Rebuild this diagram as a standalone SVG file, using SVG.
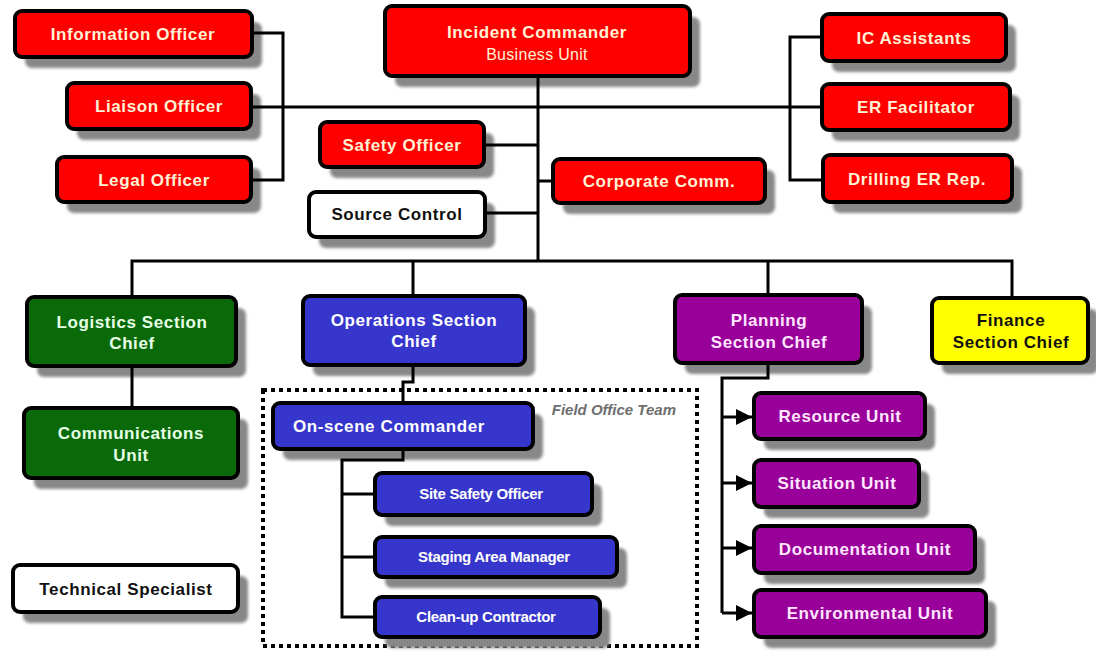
<svg xmlns="http://www.w3.org/2000/svg" width="1096" height="651" viewBox="0 0 1096 651">
  <defs>
    <filter id="soft" x="-10%" y="-20%" width="120%" height="140%">
      <feGaussianBlur stdDeviation="1.5"/>
    </filter>
    <marker id="arrow" markerUnits="userSpaceOnUse" markerWidth="18" markerHeight="18" refX="16" refY="9" orient="auto">
      <path d="M0,1 L16,9 L0,17 Z" fill="#000"/>
    </marker>
  </defs>
  <style>
    .sh { fill: #888888; filter: url(#soft); }
    .box { stroke: #000; stroke-width: 4; }
    .red { fill: #ff0000; }
    .green { fill: #0a6a0a; }
    .blue { fill: #3636cc; }
    .purple { fill: #990099; }
    .yellow { fill: #ffff00; }
    .white { fill: #ffffff; }
    text { font-family: "Liberation Sans", Arial, sans-serif; font-weight: bold; font-size: 17px; text-anchor: middle; letter-spacing: 0.6px; }
    .tr { fill: #fff2d6; }
    .tg { fill: #e6ffe6; }
    .tb { fill: #ffffff; }
    .tp { fill: #ffe6ff; }
    .tk { fill: #111111; }
    .small { font-size: 15px; letter-spacing: -0.3px; }
    .sub { font-weight: normal; font-size: 16px; letter-spacing: 0.3px; }
    .note { fill: #6e6e6e; font-style: italic; font-size: 15px; text-anchor: end; letter-spacing: 0; }
    .ln { fill: none; stroke: #000; stroke-width: 3; }
    .dots { fill: none; stroke: #000; stroke-width: 4; stroke-dasharray: 4 4; }
  </style>

  <!-- field office team frame -->
  <g id="field-office-team">
    <rect class="dots" x="263" y="390" width="434" height="256"/>
    <text class="note" x="676" y="415">Field Office Team</text>
  </g>

  <!-- command staff, left -->
  <g id="information-officer">
    <rect class="sh" x="25" y="22" width="237" height="46" rx="7"/>
    <rect class="box red" x="15" y="11" width="237" height="46" rx="7"/>
    <text class="tr" x="133" y="40">Information Officer</text>
  </g>
  <g id="liaison-officer">
    <rect class="sh" x="77" y="94" width="184" height="46" rx="7"/>
    <rect class="box red" x="67" y="83" width="184" height="46" rx="7"/>
    <text class="tr" x="159" y="112">Liaison Officer</text>
  </g>
  <g id="legal-officer">
    <rect class="sh" x="67" y="168" width="194" height="45" rx="7"/>
    <rect class="box red" x="57" y="157" width="194" height="45" rx="7"/>
    <text class="tr" x="154" y="186">Legal Officer</text>
  </g>

  <!-- incident commander -->
  <g id="incident-commander">
    <rect class="sh" x="395" y="17" width="305" height="70" rx="7"/>
    <rect class="box red" x="385" y="6" width="305" height="70" rx="7"/>
    <text class="tr" x="537" y="38">Incident Commander</text>
    <text class="tr sub" x="537" y="60">Business Unit</text>
  </g>
  <g id="safety-officer">
    <rect class="sh" x="330" y="133" width="164" height="45" rx="7"/>
    <rect class="box red" x="320" y="122" width="164" height="45" rx="7"/>
    <text class="tr" x="402" y="151">Safety Officer</text>
  </g>
  <g id="source-control">
    <rect class="sh" x="319" y="203" width="176" height="45" rx="7"/>
    <rect class="box white" x="309" y="192" width="176" height="45" rx="7"/>
    <text class="tk" x="397" y="220">Source Control</text>
  </g>
  <g id="corporate-comm">
    <rect class="sh" x="563" y="170" width="212" height="44" rx="7"/>
    <rect class="box red" x="553" y="159" width="212" height="44" rx="7"/>
    <text class="tr" x="659" y="187">Corporate Comm.</text>
  </g>

  <!-- command staff, right -->
  <g id="ic-assistants">
    <rect class="sh" x="832" y="25" width="184" height="47" rx="7"/>
    <rect class="box red" x="822" y="14" width="184" height="47" rx="7"/>
    <text class="tr" x="914" y="44">IC Assistants</text>
  </g>
  <g id="er-facilitator">
    <rect class="sh" x="832" y="95" width="188" height="46" rx="7"/>
    <rect class="box red" x="822" y="84" width="188" height="46" rx="7"/>
    <text class="tr" x="916" y="113">ER Facilitator</text>
  </g>
  <g id="drilling-er-rep">
    <rect class="sh" x="833" y="166" width="189" height="47" rx="7"/>
    <rect class="box red" x="823" y="155" width="189" height="47" rx="7"/>
    <text class="tr" x="917" y="185">Drilling ER Rep.</text>
  </g>

  <!-- section chiefs -->
  <g id="logistics-section-chief">
    <rect class="sh" x="37" y="308" width="209" height="69" rx="7"/>
    <rect class="box green" x="27" y="297" width="209" height="69" rx="7"/>
    <text class="tg" x="132" y="328">Logistics Section</text>
    <text class="tg" x="132" y="349">Chief</text>
  </g>
  <g id="operations-section-chief">
    <rect class="sh" x="313" y="307" width="222" height="69" rx="7"/>
    <rect class="box blue" x="303" y="296" width="222" height="69" rx="7"/>
    <text class="tb" x="414" y="326">Operations Section</text>
    <text class="tb" x="414" y="347">Chief</text>
  </g>
  <g id="planning-section-chief">
    <rect class="sh" x="685" y="306" width="187" height="68" rx="7"/>
    <rect class="box purple" x="675" y="295" width="187" height="68" rx="7"/>
    <text class="tp" x="769" y="326">Planning</text>
    <text class="tp" x="769" y="348">Section Chief</text>
  </g>
  <g id="finance-section-chief">
    <rect class="sh" x="942" y="309" width="156" height="65" rx="7"/>
    <rect class="box yellow" x="932" y="298" width="156" height="65" rx="7"/>
    <text class="tk" x="1011" y="326">Finance</text>
    <text class="tk" x="1011" y="348">Section Chief</text>
  </g>

  <!-- logistics units -->
  <g id="communications-unit">
    <rect class="sh" x="34" y="419" width="214" height="70" rx="7"/>
    <rect class="box green" x="24" y="408" width="214" height="70" rx="7"/>
    <text class="tg" x="131" y="439">Communications</text>
    <text class="tg" x="131" y="461">Unit</text>
  </g>

  <!-- operations units -->
  <g id="on-scene-commander">
    <rect class="sh" x="283" y="414" width="260" height="46" rx="7"/>
    <rect class="box blue" x="273" y="403" width="260" height="46" rx="7"/>
    <text class="tb" x="389" y="432">On-scene Commander</text>
  </g>
  <g id="site-safety-officer">
    <rect class="sh" x="385" y="484" width="217" height="42" rx="7"/>
    <rect class="box blue" x="375" y="473" width="217" height="42" rx="7"/>
    <text class="tb small" x="481" y="499">Site Safety Officer</text>
  </g>
  <g id="staging-area-manager">
    <rect class="sh" x="385" y="548" width="242" height="40" rx="7"/>
    <rect class="box blue" x="375" y="537" width="242" height="40" rx="7"/>
    <text class="tb small" x="494" y="562">Staging Area Manager</text>
  </g>
  <g id="clean-up-contractor">
    <rect class="sh" x="385" y="608" width="225" height="40" rx="7"/>
    <rect class="box blue" x="375" y="597" width="225" height="40" rx="7"/>
    <text class="tb small" x="486" y="622">Clean-up Contractor</text>
  </g>

  <!-- planning units -->
  <g id="resource-unit">
    <rect class="sh" x="764" y="404" width="171" height="46" rx="7"/>
    <rect class="box purple" x="754" y="393" width="171" height="46" rx="7"/>
    <text class="tp" x="840" y="422">Resource Unit</text>
  </g>
  <g id="situation-unit">
    <rect class="sh" x="764" y="471" width="165" height="47" rx="7"/>
    <rect class="box purple" x="754" y="460" width="165" height="47" rx="7"/>
    <text class="tp" x="837" y="489">Situation Unit</text>
  </g>
  <g id="documentation-unit">
    <rect class="sh" x="764" y="537" width="221" height="47" rx="7"/>
    <rect class="box purple" x="754" y="526" width="221" height="47" rx="7"/>
    <text class="tp" x="865" y="555">Documentation Unit</text>
  </g>
  <g id="environmental-unit">
    <rect class="sh" x="764" y="601" width="232" height="47" rx="7"/>
    <rect class="box purple" x="754" y="590" width="232" height="47" rx="7"/>
    <text class="tp" x="870" y="619">Environmental Unit</text>
  </g>

  <!-- standalone -->
  <g id="technical-specialist">
    <rect class="sh" x="23" y="576" width="225" height="47" rx="7"/>
    <rect class="box white" x="13" y="565" width="225" height="47" rx="7"/>
    <text class="tk" x="126" y="595">Technical Specialist</text>
  </g>

  <!-- connectors -->
  <g id="connectors">
    <path class="ln" d="M252,33 H283 V180 H251"/>
    <path class="ln" d="M251,107 H822"/>
    <path class="ln" d="M822,37 H790 V180 H823"/>
    <path class="ln" d="M538,76 V261"/>
    <path class="ln" d="M484,145 H538"/>
    <path class="ln" d="M485,213 H538"/>
    <path class="ln" d="M538,181 H553"/>
    <path class="ln" d="M132,297 V261 H1012 V298"/>
    <path class="ln" d="M413,261 V296"/>
    <path class="ln" d="M768,261 V295"/>
    <path class="ln" d="M132,366 V408"/>
    <path class="ln" d="M413,365 V382 H403 V403"/>
    <path class="ln" d="M403,449 V460 H342 V617 H375"/>
    <path class="ln" d="M342,494 H375"/>
    <path class="ln" d="M342,557 H375"/>
    <path class="ln" d="M768,363 V378 H722 V613"/>
    <path class="ln" d="M722,417 H752" marker-end="url(#arrow)"/>
    <path class="ln" d="M722,483 H752" marker-end="url(#arrow)"/>
    <path class="ln" d="M722,548 H752" marker-end="url(#arrow)"/>
    <path class="ln" d="M722,613 H752" marker-end="url(#arrow)"/>
  </g>
</svg>
